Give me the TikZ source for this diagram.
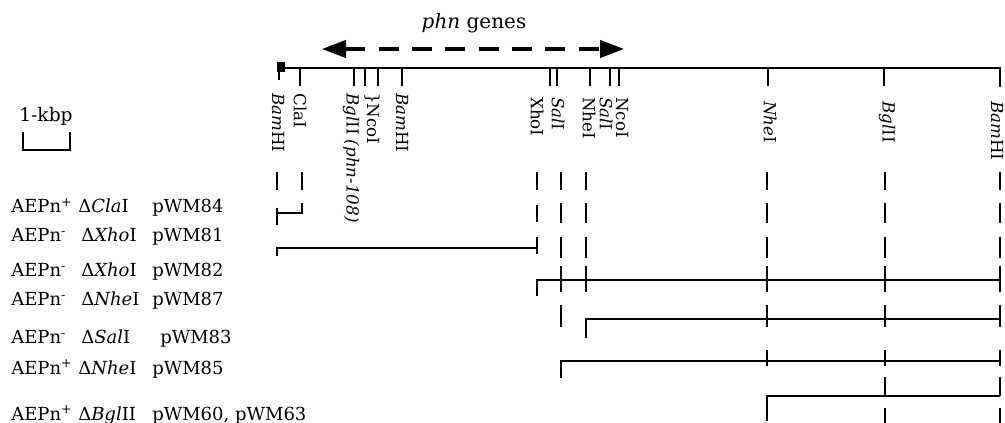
\documentclass[tikz,border=0pt]{standalone}
\usepackage{fontspec}
\setmainfont{DejaVu Serif}
\usetikzlibrary{arrows.meta}
\begin{document}
\begin{tikzpicture}[x=0.75pt,y=-0.75pt,
  lbl/.style={rotate=-90,anchor=west,inner sep=0pt,font=\fontsize{12.5}{14}\selectfont},
  leg/.style={anchor=base west,inner sep=0pt,font=\fontsize{13.5}{15}\selectfont},
  mainline/.style={line width=2.2pt},
  sitetick/.style={line width=1.5pt},
  guide/.style={line width=1.8pt},
  rowline/.style={line width=1.4pt,line join=miter},
  genearrow/.style={line width=2.4pt,dash pattern=on 15pt off 10pt,
    {Triangle[length=18pt,width=13pt]}-{Triangle[length=18pt,width=13pt]}}]
\useasboundingbox (0,0) rectangle (1005,423);

% ---------- scale bar ----------
\node[inner sep=0pt,font=\fontsize{14}{16}\selectfont] (kbp) at (46,116) {1-kbp};
\coordinate (sbL) at (23,132);
\coordinate (sbR) at (70,132);
\coordinate (sbB) at (0,150);
\draw[line width=1.5pt] (sbL) -- (sbL |- sbB) -- (sbR |- sbB) -- (sbR);

% ---------- phn genes arrow ----------
\node[inner sep=0pt,font=\fontsize{15}{17}\selectfont] (phn) at (474,23) {\textit{phn} genes};
\coordinate (al) at (322,49);
\coordinate (ar) at (624,49);
\draw[genearrow] (al) -- (ar);

% ---------- main map line ----------
\coordinate (mL) at (279,68);
\coordinate (mR) at (1000,68);
\coordinate (mRb) at (1000,87);
\fill (277,62) rectangle (285,72);
\draw[line width=1.8pt] (279,62) -- (279,80);
\draw[mainline] (mL) -- (mR) -- (mRb);

% site ticks
\foreach \x in {300,354,365,378,402,550,557,590,610,619,768,884}
  \draw[sitetick] (\x,68) -- (\x,86);

% site labels
\node[lbl] (lBam1) at (278,93) {\textit{Bam}HI};
\node[lbl] (lCla) at (300,93) {ClaI};
\node[lbl] (lBgl1) at (351,93) {\textit{Bgl}II \textit{(phn-108)}};
\node[lbl] (lNco1) at (372,93) {\}NcoI};
\node[lbl] (lBam2) at (402,93) {\textit{Bam}HI};
\node[lbl] (lXho) at (537,97) {XhoI};
\node[lbl] (lSal1) at (558,97) {\textit{Sal}I};
\node[lbl] (lNhe1) at (589,97) {NheI};
\node[lbl] (lSal2) at (606,97) {\textit{Sal}I};
\node[lbl] (lNco2) at (622,97) {NcoI};
\node[lbl] (lNhe2) at (770,101) {\textit{Nhe}I};
\node[lbl] (lBgl2) at (887,101) {\textit{Bgl}II};
\node[lbl] (lBam3) at (997,101) {\textit{Bam}HI};

% ---------- legend text ----------
\node[leg] (a1) at (11,213) {AEPn\textsuperscript{+}};
\node[leg] (b1) at (78,213) {Δ\textit{Cla}I};
\node[leg] (c1) at (152,213) {pWM84};
\node[leg] (a2) at (11,242) {AEPn\textsuperscript{-}};
\node[leg] (b2) at (81,242) {Δ\textit{Xho}I};
\node[leg] (c2) at (152,242) {pWM81};
\node[leg] (a3) at (11,277) {AEPn\textsuperscript{-}};
\node[leg] (b3) at (81,277) {Δ\textit{Xho}I};
\node[leg] (c3) at (152,277) {pWM82};
\node[leg] (a4) at (11,306) {AEPn\textsuperscript{-}};
\node[leg] (b4) at (81,306) {Δ\textit{Nhe}I};
\node[leg] (c4) at (152,306) {pWM87};
\node[leg] (a5) at (11,344) {AEPn\textsuperscript{-}};
\node[leg] (b5) at (81,344) {Δ\textit{Sal}I};
\node[leg] (c5) at (160,344) {pWM83};
\node[leg] (a6) at (11,374) {AEPn\textsuperscript{+}};
\node[leg] (b6) at (78,374) {Δ\textit{Nhe}I};
\node[leg] (c6) at (152,374) {pWM85};
\node[leg] (a7) at (11,420) {AEPn\textsuperscript{+}};
\node[leg] (b7) at (78,420) {Δ\textit{Bgl}II};
\node[leg] (c7) at (152,420) {pWM60, pWM63};

% ---------- columns and rows ----------
\coordinate (cBL) at (277,0);
\coordinate (cCla) at (302,0);
\coordinate (cXho) at (537,0);
\coordinate (cSal) at (561,0);
\coordinate (cNhe) at (586,0);
\coordinate (cNheB) at (767,0);
\coordinate (cBgl) at (885,0);
\coordinate (cBR) at (1000,0);
\coordinate (y1) at (0,213);
\coordinate (y2) at (0,248);
\coordinate (y3) at (0,280);
\coordinate (y4) at (0,319);
\coordinate (y5) at (0,361);
\coordinate (y6) at (0,396);

% dashed guide segments
\foreach \a/\b in {172/190,208/225}
  \draw[guide] (277,\a) -- (277,\b);
\draw[guide] (302,172) -- (302,190);
\foreach \a/\b in {172/190,205/222,237/254}
  \draw[guide] (537,\a) -- (537,\b);
\foreach \a/\b in {172/190,203/223,237/258,266/292,305/327}
  \draw[guide] (561,\a) -- (561,\b);
\foreach \a/\b in {172/190,203/223,237/258,266/292}
  \draw[guide] (586,\a) -- (586,\b);
\foreach \a/\b in {172/190,203/223,237/258,266/292,305/327,350/366}
  \draw[guide] (767,\a) -- (767,\b);
\foreach \x in {885,1000}
  \foreach \a/\b in {172/190,203/223,237/258,266/292,305/327,350/366,377/396,408/424}
    \draw[guide] (\x,\a) -- (\x,\b);

% deletion rows (with corners)
\draw[rowline] (cBL |- y1) -- (cCla |- y1) -- ++(0,-10);
\draw[rowline] ([yshift=-6]cBL |- y2) -- (cBL |- y2) -- (cXho |- y2);
\draw[rowline] ([yshift=-12]cXho |- y3) -- (cXho |- y3) -- (cBR |- y3);
\draw[rowline] ([yshift=-14]cNhe |- y4) -- (cNhe |- y4) -- (cBR |- y4);
\draw[rowline] ([yshift=-13]cSal |- y5) -- (cSal |- y5) -- (cBR |- y5);
\draw[rowline] ([yshift=-19]cNheB |- y6) -- (cNheB |- y6) -- (cBR |- y6);
\end{tikzpicture}
\end{document}
